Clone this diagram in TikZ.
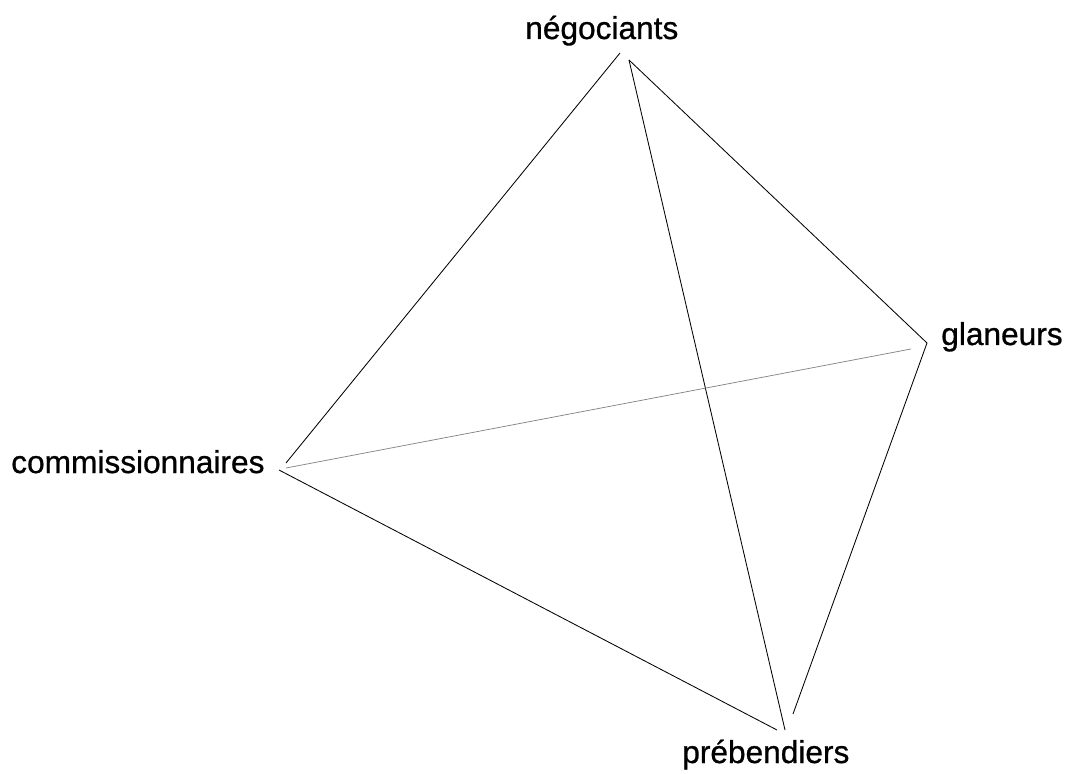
\documentclass[tikz,border=0pt]{standalone}
\usepackage{fontspec}
\setmainfont{Liberation Sans}
\newfontfamily\labelfont{Liberation Sans}[FakeBold=0.8]
\usetikzlibrary{positioning}

\begin{document}
\begin{tikzpicture}[
    x=0.025cm, y=-0.025cm,
    % --- Global Styles ---
    actor/.style={anchor=base west, inner sep=0pt, font=\labelfont\fontsize{22.5}{27}\selectfont},
    link/.style={draw, line width=0.6pt, color=black},
    faint link/.style={link, line width=0.5pt, color=black!50}
]
    \useasboundingbox (0,0) rectangle (1067,774);

    % --- Labels ---
    \node[actor] (negociants) at (525,39) {négociants};
    \node[actor] (glaneurs) at (941,345) {glaneurs};
    \node[actor] (commissionnaires) at (11,473) {commissionnaires};
    \node[actor] (prebendiers) at (682,763) {prébendiers};

    % --- Line ends near each label ---
    \coordinate (neg a) at (620,53);
    \coordinate (neg b) at (629,60);
    \coordinate (gla a) at (927,343);
    \coordinate (gla b) at (911,349);
    \coordinate (com a) at (286,463);
    \coordinate (com b) at (286,468);
    \coordinate (com c) at (279,470);
    \coordinate (pre a) at (777,730);
    \coordinate (pre b) at (785,730);
    \coordinate (pre c) at (793,714);

    % --- Edges ---
    \draw[link] (neg a) -- (com a);
    \draw[link] (neg b) -- (gla a);
    \draw[link] (neg b) -- (pre b);
    \draw[faint link] (gla b) -- (com b);
    \draw[link] (gla a) -- (pre c);
    \draw[link] (com c) -- (pre a);

\end{tikzpicture}
\end{document}
